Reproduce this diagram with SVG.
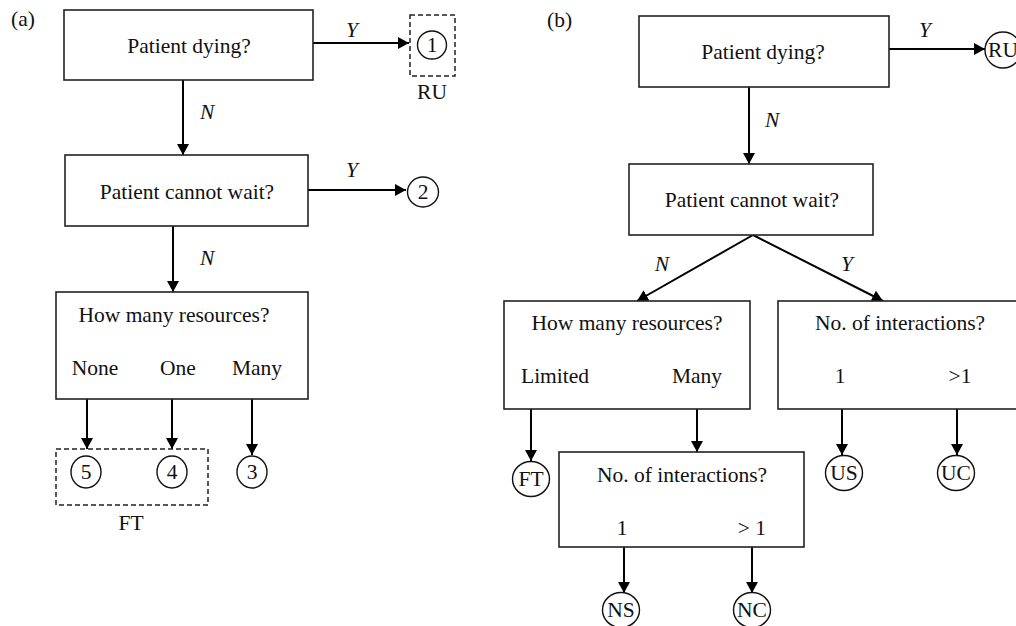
<svg xmlns="http://www.w3.org/2000/svg" width="1016" height="626" viewBox="0 0 1016 626">
<defs>
<marker id="ah" markerUnits="userSpaceOnUse" markerWidth="12" markerHeight="12" refX="11" refY="6" orient="auto">
<path d="M0,0 L11,6 L0,12 z" fill="#000"/>
</marker>
<style>
text{font-family:"Liberation Serif","Times New Roman",serif;font-size:21.5px;fill:#111;}
.c{text-anchor:middle;}
.i{font-style:italic;}
.box{fill:#fff;stroke:#222;stroke-width:1.6;}
.dash{fill:none;stroke:#222;stroke-width:1.5;stroke-dasharray:5,3;}
.circ{fill:#fff;stroke:#111;stroke-width:1.4;}
.ar{stroke:#000;stroke-width:2;fill:none;marker-end:url(#ah);}
</style>
</defs>
<rect width="1016" height="626" fill="#fff"/>
<text x="11" y="26">(a)</text>
<text x="547" y="27">(b)</text>

<g id="connectors">
<line class="ar" x1="313" y1="43" x2="409" y2="43"/>
<line class="ar" x1="183" y1="80" x2="183" y2="155"/>
<line class="ar" x1="308" y1="190" x2="406" y2="190"/>
<line class="ar" x1="173" y1="226" x2="173" y2="292"/>
<line class="ar" x1="87" y1="399" x2="87" y2="449"/>
<line class="ar" x1="172" y1="399" x2="172" y2="449"/>
<line class="ar" x1="252" y1="399" x2="252" y2="455"/>
<line class="ar" x1="889" y1="49" x2="985" y2="49"/>
<line class="ar" x1="749" y1="87" x2="749" y2="164"/>
<line class="ar" x1="753" y1="235" x2="637" y2="301"/>
<line class="ar" x1="753" y1="235" x2="883" y2="301"/>
<line class="ar" x1="531" y1="409" x2="531" y2="461"/>
<line class="ar" x1="697" y1="409" x2="697" y2="452"/>
<line class="ar" x1="842" y1="409" x2="842" y2="455"/>
<line class="ar" x1="957" y1="409" x2="957" y2="455"/>
<line class="ar" x1="624" y1="547" x2="624" y2="593"/>
<line class="ar" x1="752" y1="547" x2="752" y2="593"/>
<text class="c i" x="352" y="37">Y</text>
<text class="i" x="200" y="119">N</text>
<text class="c i" x="352" y="177">Y</text>
<text class="i" x="200" y="265">N</text>
<text class="c i" x="925" y="37">Y</text>
<text class="i" x="765" y="127">N</text>
<text class="c i" x="662" y="271">N</text>
<text class="c i" x="847" y="271">Y</text>
</g>

<g id="a-dying">
<rect class="box" x="64" y="10" width="249" height="70"/>
<text class="c" x="189" y="53">Patient dying?</text>
</g>
<g id="a-ru">
<rect class="dash" x="410" y="15" width="45" height="61"/>
<ellipse class="circ" cx="432" cy="45" rx="14.5" ry="14"/>
<text class="c" x="432" y="52">1</text>
<text class="c" x="432" y="99">RU</text>
</g>
<g id="a-wait">
<rect class="box" x="65" y="155" width="243" height="71"/>
<text class="c" x="187" y="199">Patient cannot wait?</text>
</g>
<g id="a-2">
<ellipse class="circ" cx="423" cy="192" rx="15.5" ry="15"/>
<text class="c" x="423" y="199">2</text>
</g>
<g id="a-res">
<rect class="box" x="56" y="292" width="252" height="107"/>
<text class="c" x="174" y="322">How many resources?</text>
<text class="c" x="95" y="375">None</text>
<text class="c" x="178" y="375">One</text>
<text class="c" x="257" y="375">Many</text>
</g>
<g id="a-ft">
<rect class="dash" x="56" y="449" width="152" height="56"/>
<ellipse class="circ" cx="86" cy="472" rx="15" ry="16"/>
<text class="c" x="86" y="479">5</text>
<ellipse class="circ" cx="172" cy="472" rx="15" ry="16"/>
<text class="c" x="172" y="479">4</text>
<text class="c" x="131" y="530">FT</text>
</g>
<g id="a-3">
<ellipse class="circ" cx="252" cy="472" rx="15" ry="16"/>
<text class="c" x="252" y="479">3</text>
</g>

<g id="b-dying">
<rect class="box" x="639" y="16" width="250" height="71"/>
<text class="c" x="763" y="59">Patient dying?</text>
</g>
<g id="b-ru">
<ellipse class="circ" cx="1003" cy="50" rx="18" ry="18"/>
<text class="c" x="1003" y="57">RU</text>
</g>
<g id="b-wait">
<rect class="box" x="629" y="164" width="244" height="71"/>
<text class="c" x="752" y="207">Patient cannot wait?</text>
</g>
<g id="b-res">
<rect class="box" x="504" y="301" width="246" height="108"/>
<text class="c" x="627" y="330">How many resources?</text>
<text x="521" y="383">Limited</text>
<text class="c" x="697" y="383">Many</text>
</g>
<g id="b-int-u">
<rect class="box" x="778" y="301" width="260" height="108"/>
<text class="c" x="900" y="330">No. of interactions?</text>
<text class="c" x="840" y="383">1</text>
<text class="c" x="960" y="383">&gt;1</text>
</g>
<g id="b-ft">
<ellipse class="circ" cx="531" cy="479" rx="18.5" ry="17.5"/>
<text class="c" x="531" y="486">FT</text>
</g>
<g id="b-int-n">
<rect class="box" x="559" y="452" width="245" height="95"/>
<text class="c" x="682" y="482">No. of interactions?</text>
<text class="c" x="622" y="535">1</text>
<text class="c" x="752" y="535">&gt; 1</text>
</g>
<g id="b-us">
<ellipse class="circ" cx="844" cy="473" rx="18.5" ry="17.5"/>
<text class="c" x="844" y="480">US</text>
</g>
<g id="b-uc">
<ellipse class="circ" cx="956" cy="473" rx="18.5" ry="17.5"/>
<text class="c" x="956" y="480">UC</text>
</g>
<g id="b-ns">
<ellipse class="circ" cx="621" cy="610" rx="18.5" ry="17.5"/>
<text class="c" x="621" y="617">NS</text>
</g>
<g id="b-nc">
<ellipse class="circ" cx="752" cy="610" rx="18.5" ry="17.5"/>
<text class="c" x="752" y="617">NC</text>
</g>
</svg>
